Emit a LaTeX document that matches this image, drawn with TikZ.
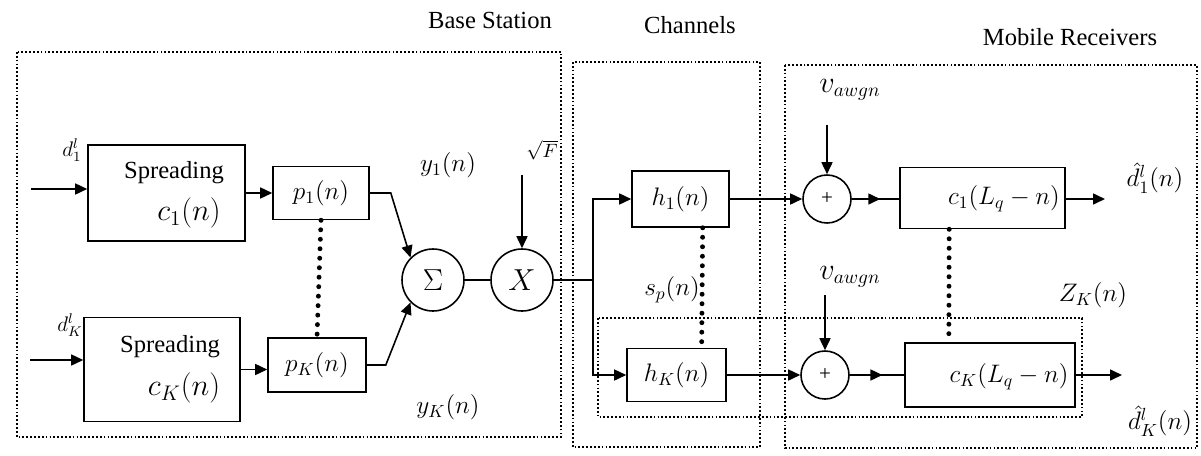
\documentclass[tikz,border=0pt]{standalone}
\usepackage{fontspec}
\setmainfont{Liberation Serif}
\usepackage{tikz}
\usetikzlibrary{
    arrows.meta,
    calc,
    decorations.markings
}

\begin{document}
\begin{tikzpicture}[x=0.2mm,y=-0.2mm,
   every node/.style={font=\fontsize{14}{16}\selectfont},
   blk/.style={draw,line width=0.9pt,rectangle,inner sep=0pt},
   sumc/.style={draw,line width=0.9pt,circle,inner sep=0pt,minimum size=#1},
   grp/.style={line width=1.3pt,dash pattern=on 1pt off 1.2pt},
   dotlink/.style={line width=2.8pt,dash pattern=on 0pt off 5.4pt,line cap=round},
   arr/.style={line width=0.9pt,-{Triangle[length=2.4mm,width=2.2mm]}},
   arrmid/.style={line width=0.9pt,postaction={decorate},
      decoration={markings,mark=at position 0.6 with {\arrow{Triangle[length=2.4mm,width=2.2mm]}}}},
   every path/.style={line width=0.9pt}]
  \useasboundingbox (0,0) rectangle (1201,455);
  % group boxes
  \draw[grp] (17,52) rectangle (561,437);
  \draw[grp] (573,62) rectangle (760,447);
  \draw[grp] (785,65) rectangle (1197,448);
  \draw[grp] (598,318) rectangle (1082,417);
  \node (tbs) at (490,20) {Base Station};
  \node (tch) at (690,25) {Channels};
  \node (tmr) at (1070,37) {Mobile Receivers};
  % base station
  \node[blk,minimum width=31.4mm,minimum height=19.2mm] (sp1) at (166.5,193) {};
  \node (sp1a) at (174,173) {Spreading};
  \node[font=\fontsize{17}{19}\selectfont] (sp1b) at (189,213) {$c_1(n)$};
  \node[blk,minimum width=31.2mm,minimum height=20.8mm] (spK) at (162,369.5) {};
  \node (spKa) at (170,347) {Spreading};
  \node[font=\fontsize{17}{19}\selectfont] (spKb) at (184,388) {$c_K(n)$};
  \node[blk,minimum width=19.2mm,minimum height=10.6mm] (p1) at (321,193) {$p_1(n)$};
  \node[blk,minimum width=19.6mm,minimum height=10.8mm] (pK) at (317,365) {$p_K(n)$};
  \node[sumc=12.4mm,font=\fontsize{17}{19}\selectfont] (sig) at (433,280) {$\Sigma$};
  \node[sumc=12.4mm,font=\fontsize{18}{20}\selectfont] (X) at (522,280) {$X$};
  \coordinate (in1) at (31,189);
  \coordinate (inK) at (30,360);
  \coordinate (sqf) at (522,175);
  \coordinate (jn) at (593,280);
  \node[font=\fontsize{12}{14}\selectfont] (d1) at (72,150) {$d_1^l$};
  \node[font=\fontsize{12}{14}\selectfont] (dK) at (70,325) {$d_K^l$};
  \node (y1) at (448,165) {$y_1(n)$};
  \node (yK) at (448,407) {$y_K(n)$};
  \node[font=\fontsize{11}{13}\selectfont] (sqF) at (542,150) {$\sqrt{F}$};
  \draw[arr] (in1) -- (in1 -| sp1.west);
  \draw[arr] (inK) -- (inK -| spK.west);
  \draw[arr] (sp1.east) -- (sp1.east -| p1.west);
  \draw[arr] (spK.east) -- (spK.east -| pK.west);
  \draw[dotlink] (p1.south) -- (pK.north);
  \draw[arr] (p1.east) -- ++(21,0) -- (sig.135);
  \draw[arr] (pK.east) -- ++(19,0) -- (sig.225);
  \draw (sig) -- (X);
  \draw[arr] (sqf) -- (X.north);
  \draw (X.east) -- (jn);
  % channels
  \node[blk,minimum width=19.4mm,minimum height=11.2mm] (h1) at (680.5,199) {$h_1(n)$};
  \node[blk,minimum width=19.8mm,minimum height=10.6mm] (hK) at (676.5,375) {$h_K(n)$};
  \node (sp) at (672,290) {$s_p(n)$};
  \draw[arr] (jn) |- (h1.west);
  \draw[arr] (jn) |- (hK.west);
  \draw[dotlink] ($(h1.south)!0.45!(h1.south east)$) -- ($(hK.north)!0.5!(hK.north east)$);
  % mobile receivers
  \node[sumc=9.6mm,font=\fontsize{12}{14}\selectfont] (s1) at (827,199) {+};
  \node[sumc=9.6mm,font=\fontsize{12}{14}\selectfont] (sK) at (825,375) {+};
  \node[blk,minimum width=33mm,minimum height=12.2mm] (c1) at (982.5,198) {};
  \node (c1a) at (1004,199) {$c_1(L_q-n)$};
  \node[blk,minimum width=34mm,minimum height=12.8mm] (cK) at (990,375) {};
  \node (cKa) at (1009,377) {$c_K(L_q-n)$};
  \coordinate (v1) at (827,125);
  \coordinate (vK) at (825,295);
  \coordinate (o1) at (1105,199);
  \coordinate (oK) at (1122,375);
  \node[font=\fontsize{16}{18}\selectfont] (nv1) at (850,90) {$v_{awgn}$};
  \node[font=\fontsize{16}{18}\selectfont] (nvK) at (850,277) {$v_{awgn}$};
  \node (zK) at (1093,295) {$Z_K(n)$};
  \node (dh1) at (1155,178) {$\hat{d}_1^l(n)$};
  \node (dhK) at (1160,421) {$\hat{d}_K^l(n)$};
  \draw[arr] (h1) -- (s1);
  \draw[arr] (hK) -- (sK);
  \draw[arr] (v1) -- (s1);
  \draw[arr] (vK) -- (sK);
  \draw[arrmid] (s1) -- (s1 -| c1.west);
  \draw[arrmid] (sK) -- (cK);
  \draw[arr] (c1.east |- o1) -- (o1);
  \draw[arr] (cK.east) -- (oK);
  \draw[dotlink] ($(c1.south west)!0.6!(c1.south)$) -- ($(cK.north west)!0.52!(cK.north)$);
\end{tikzpicture}
\end{document}
